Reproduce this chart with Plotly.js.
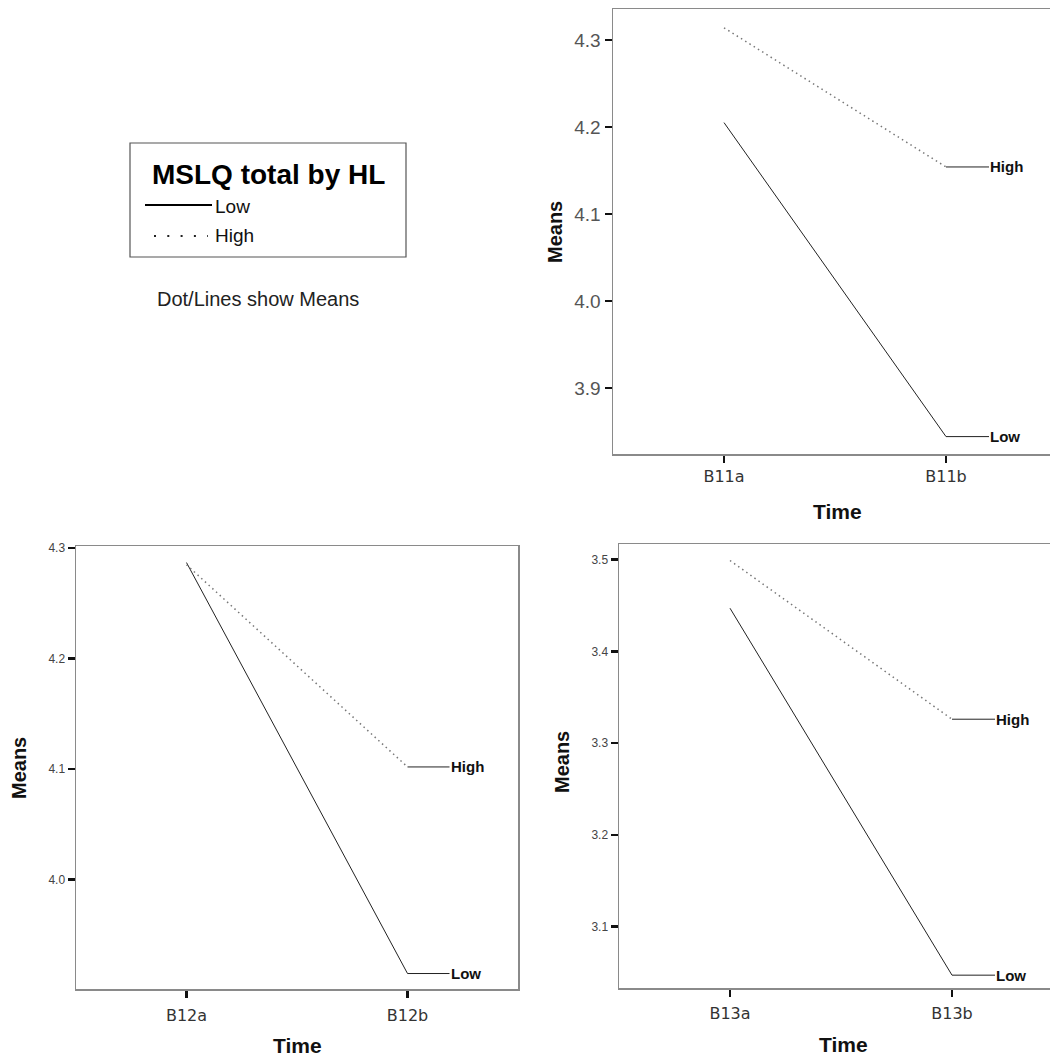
<!DOCTYPE html>
<html>
<head>
<meta charset="utf-8">
<script src="https://cdn.plot.ly/plotly-3.0.1.min.js"></script>
<style>html,body{margin:0;padding:0;background:#fff;}#chart{width:1050px;height:1059px;}</style>
</head>
<body>
<div id="chart"></div>
<script>
// Data
const times1 = ['B11a', 'B11b'];
const low1 = [4.205, 3.844];
const high1 = [4.314, 4.154];

const times2 = ['B12a', 'B12b'];
const low2 = [4.287, 3.915];
const high2 = [4.285, 4.102];

const times3 = ['B13a', 'B13b'];
const low3 = [3.447, 3.047];
const high3 = [3.499, 3.326];

const groupNames = ['Low', 'High'];
const legendTitle = 'MSLQ total by HL';
const footNote = 'Dot/Lines show Means';
const yTitle = 'Means';
const xTitle = 'Time';

const W = 1050, H = 1059;
const px = v => v / W;
const py = v => 1 - v / H;

const lowStyle = {color: '#222', width: 1, dash: 'solid'};
const highStyle = {color: '#777', width: 1.5, dash: '1.5px,3.5px'};

function pair(xs, lo, hi, xa, ya) {
  return [
    {x: xs, y: lo, type: 'scatter', mode: 'lines', line: lowStyle, xaxis: xa, yaxis: ya, showlegend: false, hoverinfo: 'skip'},
    {x: xs, y: hi, type: 'scatter', mode: 'lines', line: highStyle, xaxis: xa, yaxis: ya, showlegend: false, hoverinfo: 'skip'}
  ];
}

const data = [
  ...pair(times1, low1, high1, 'x', 'y'),
  ...pair(times2, low2, high2, 'x2', 'y2'),
  ...pair(times3, low3, high3, 'x3', 'y3')
];

const axisLine = {showline: true, linecolor: '#8a8a8a', linewidth: 1.5, showgrid: false, zeroline: false,
  ticks: 'outside', ticklen: 7, tickwidth: 2.5, tickcolor: '#111', fixedrange: true};

function xAxis(domain, range, anchor, mirror, standoff) {
  return Object.assign({}, axisLine, {type: 'category', domain: domain, range: range, anchor: anchor,
    mirror: mirror, ticklabelstandoff: standoff, tickfont: {family: 'DejaVu Sans', size: 16, color: '#333'}});
}
function yAxis(domain, range, anchor, mirror, fsize, fcolor) {
  return Object.assign({}, axisLine, {domain: domain, range: range, anchor: anchor, mirror: mirror,
    dtick: 0.1, tick0: 0, tickformat: '.1f',
    tickfont: {family: 'Arial', size: fsize, color: fcolor}});
}

const annotations = [];
function endLabel(xa, ya, xv, yv, text, ax) {
  annotations.push({xref: xa, yref: ya, x: xv, y: yv, text: '<b>' + text + '</b>', showarrow: true,
    arrowhead: 0, arrowwidth: 1, arrowcolor: '#222', ax: ax, ay: 0, standoff: 0, startstandoff: 0,
    xanchor: 'left', yanchor: 'middle', borderpad: 0,
    font: {family: 'Arial', size: 15, color: '#111'}});
}
endLabel('x', 'y', times1[1], high1[1], groupNames[1], 43);
endLabel('x', 'y', times1[1], low1[1], groupNames[0], 43);
endLabel('x2', 'y2', times2[1], high2[1], groupNames[1], 42);
endLabel('x2', 'y2', times2[1], low2[1], groupNames[0], 42);
endLabel('x3', 'y3', times3[1], high3[1], groupNames[1], 43);
endLabel('x3', 'y3', times3[1], low3[1], groupNames[0], 43);

function titleAnn(x, y, text, rot, size) {
  annotations.push({xref: 'paper', yref: 'paper', x: px(x), y: py(y), text: '<b>' + text + '</b>',
    showarrow: false, textangle: rot, xanchor: 'center', yanchor: 'middle',
    font: {family: 'Arial', size: size, color: '#111'}});
}
titleAnn(555, 232, yTitle, -90, 20);
titleAnn(837, 511, xTitle, 0, 21);
titleAnn(19, 768, yTitle, -90, 20);
titleAnn(297, 1045, xTitle, 0, 21);
titleAnn(562, 762, yTitle, -90, 20);
titleAnn(843, 1044, xTitle, 0, 21);

// legend block
annotations.push({xref: 'paper', yref: 'paper', x: px(268), y: py(174), text: '<b>' + legendTitle + '</b>',
  showarrow: false, xanchor: 'center', yanchor: 'middle', font: {family: 'Arial', size: 28, color: '#000'}});
annotations.push({xref: 'paper', yref: 'paper', x: px(213), y: py(206), text: groupNames[0],
  showarrow: false, xanchor: 'left', yanchor: 'middle', font: {family: 'Arial', size: 19, color: '#111'}});
annotations.push({xref: 'paper', yref: 'paper', x: px(213), y: py(236), text: groupNames[1],
  showarrow: false, xanchor: 'left', yanchor: 'middle', font: {family: 'Arial', size: 19, color: '#111'}});
annotations.push({xref: 'paper', yref: 'paper', x: px(258), y: py(299), text: footNote,
  showarrow: false, xanchor: 'center', yanchor: 'middle', font: {family: 'Arial', size: 20, color: '#222'}});

const shapes = [
  {type: 'rect', xref: 'paper', yref: 'paper', x0: px(130), x1: px(406), y0: py(257), y1: py(143),
    line: {color: '#555', width: 1.2}},
  {type: 'line', xref: 'paper', yref: 'paper', x0: px(145), x1: px(212), y0: py(205), y1: py(205),
    line: {color: '#000', width: 2}},
  {type: 'line', xref: 'paper', yref: 'paper', x0: px(154), x1: px(208), y0: py(236), y1: py(236),
    line: {color: '#222', width: 2, dash: '2px,11.3px'}}
];

const layout = {
  width: W, height: H, margin: {l: 0, r: 0, t: 0, b: 0}, paper_bgcolor: '#fff', plot_bgcolor: '#fff',
  showlegend: false,
  xaxis: xAxis([px(613), 1], [-0.5, (W - 613) / 222 - 0.5], 'y', true, 0),
  yaxis: yAxis([py(454), py(9)], [3.824, 4.3356], 'x', false, 19, '#555'),
  xaxis2: xAxis([px(76), px(518)], [-0.5, 1.5], 'y2', true, 4),
  yaxis2: yAxis([py(989), py(546)], [3.901, 4.302], 'x2', true, 12, '#444'),
  xaxis3: xAxis([px(619), 1], [-0.5, (W - 619) / 222 - 0.5], 'y3', true, 3),
  yaxis3: yAxis([py(988), py(544)], [3.033, 3.517], 'x3', false, 12, '#444'),
  annotations: annotations,
  shapes: shapes
};

Plotly.newPlot('chart', data, layout, {staticPlot: true, displayModeBar: false});
</script>
</body>
</html>
